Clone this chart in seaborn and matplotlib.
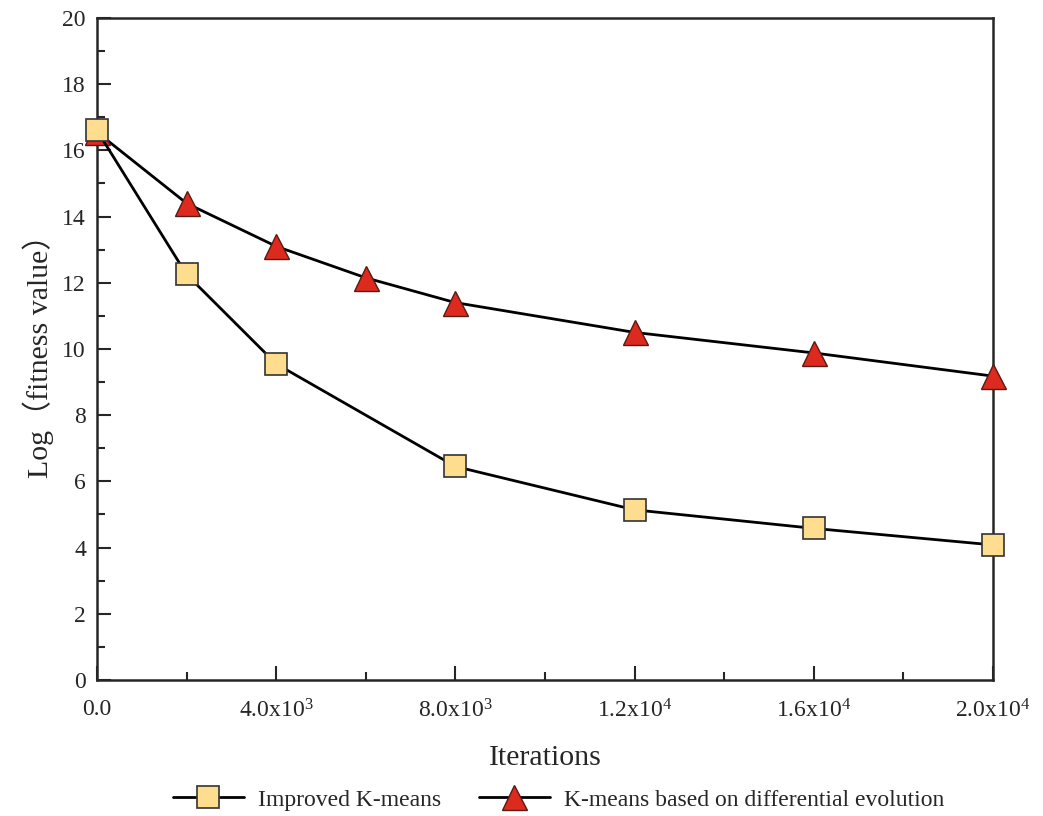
import pandas as pd
import numpy as np
import matplotlib.pyplot as plt
import seaborn as sns
from matplotlib.ticker import MultipleLocator, FixedLocator

sns.set_style('ticks')
plt.rcParams['font.family'] = ['Liberation Serif', 'Noto Sans CJK SC', 'DejaVu Sans']
plt.rcParams['mathtext.fontset'] = 'custom'
plt.rcParams['mathtext.rm'] = 'Liberation Serif'
plt.rcParams['mathtext.it'] = 'Liberation Serif'
plt.rcParams['mathtext.default'] = 'regular'

# data
iter_improved = [0, 2000, 4000, 8000, 12000, 16000, 20000]
fit_improved = [16.6, 12.25, 9.55, 6.45, 5.14, 4.58, 4.08]
iter_de = [0, 2000, 4000, 6000, 8000, 12000, 16000, 20000]
fit_de = [16.55, 14.4, 13.1, 12.15, 11.4, 10.5, 9.88, 9.18]
xtick_vals = [0, 4000, 8000, 12000, 16000, 20000]
xtick_labels = ['0.0', r'4.0x10$^3$', r'8.0x10$^3$', r'1.2x10$^4$', r'1.6x10$^4$', r'2.0x10$^4$']

df_imp = pd.DataFrame({'Iterations': iter_improved, 'fit': fit_improved})
df_de = pd.DataFrame({'Iterations': iter_de, 'fit': fit_de})

fig = plt.figure(figsize=(10.43, 8.16), dpi=100)
ax = fig.add_axes([0.093, 0.1667, 0.859, 0.8113])

sns.lineplot(data=df_de, x='Iterations', y='fit', ax=ax, color='black', linewidth=2,
             marker='^', markersize=18, markerfacecolor='#DD2A1F', markeredgecolor='#5a1a14',
             markeredgewidth=1, label='K-means based on differential evolution', zorder=3,
             clip_on=False)
sns.lineplot(data=df_imp, x='Iterations', y='fit', ax=ax, color='black', linewidth=2,
             marker='s', markersize=16, markerfacecolor='#FFDD8E', markeredgecolor='#333333',
             markeredgewidth=1.2, label='Improved K-means', zorder=4, clip_on=False)

ax.set_xlim(0, 20000)
ax.set_ylim(0, 20)
ax.xaxis.set_major_locator(FixedLocator(xtick_vals))
ax.set_xticklabels(xtick_labels)
ax.xaxis.set_minor_locator(MultipleLocator(2000))
ax.yaxis.set_major_locator(MultipleLocator(2))
ax.yaxis.set_minor_locator(MultipleLocator(1))
ax.tick_params(which='major', direction='in', length=10, width=1.5, labelsize=17, pad=14)
ax.tick_params(axis='y', which='major', pad=8)
ax.tick_params(which='minor', direction='in', length=6, width=1.5)
for s in ax.spines.values():
    s.set_linewidth(1.8)

ax.set_xlabel('Iterations', fontsize=21.5, labelpad=16)
ax.set_ylabel('Log（fitness value）', fontsize=21.5, labelpad=6)

h, l = ax.get_legend_handles_labels()
ax.legend(h[::-1], l[::-1], loc='center', bbox_to_anchor=(0.515, -0.181), ncol=2,
          frameon=False, fontsize=17, handlelength=3.0, columnspacing=1.6, handletextpad=0.6,
          borderpad=0)

plt.savefig('out.png', dpi=100)
